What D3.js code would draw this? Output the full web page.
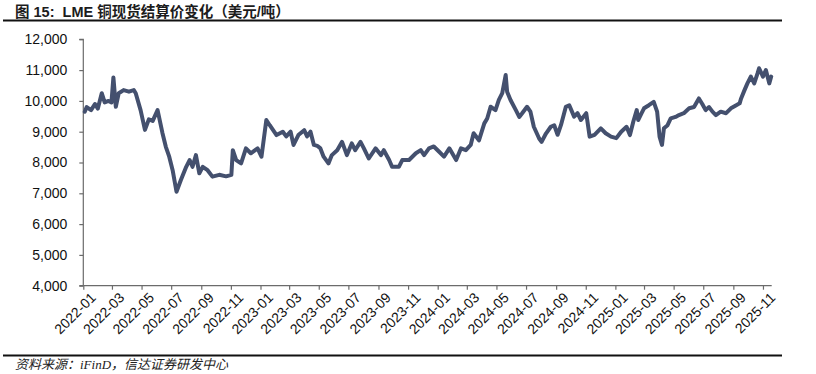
<!DOCTYPE html>
<html>
<head>
<meta charset="utf-8">
<script src="https://cdn.jsdelivr.net/npm/d3@7"></script>
<style>
  body { margin: 0; background: #fff; }
  svg { display: block; }
  .axis path, .axis line { stroke: #6b6b6b; stroke-width: 1.2; }
  .axis text { font-family: "Liberation Sans", Arial, sans-serif; font-size: 14px; fill: #111; }
  .title { font-family: "Liberation Sans", Arial, "Noto Sans CJK SC", sans-serif; font-size: 14.5px; font-weight: bold; fill: #1c1c1c; }
  .source { font-family: "Liberation Serif", "Noto Sans CJK SC", serif; font-size: 13px; font-style: italic; fill: #222; }
  .rule { stroke: #111; stroke-width: 2; }
  .price { fill: none; stroke: #44506e; stroke-width: 4; stroke-linejoin: round; stroke-linecap: round; }
</style>
</head>
<body>
<div id="chart"></div>
<script>
var title = "图 15:  LME 铜现货结算价变化（美元/吨）";
var source = "资料来源：iFinD，信达证券研发中心";

var yTicks = [4000, 5000, 6000, 7000, 8000, 9000, 10000, 11000, 12000];
var xDomain = ["2022-01-01", "2025-11-19"];

// LME copper cash settlement, USD/t
var dates = [
  "2022-01-04","2022-01-08","2022-01-17","2022-01-25","2022-01-31","2022-02-08","2022-02-14","2022-02-22",
  "2022-02-28","2022-03-04","2022-03-09","2022-03-15","2022-03-25","2022-04-05","2022-04-15","2022-04-19",
  "2022-04-29","2022-05-08","2022-05-16","2022-05-24","2022-06-03","2022-06-13","2022-06-20","2022-06-27",
  "2022-07-04","2022-07-12","2022-07-21","2022-08-01","2022-08-08","2022-08-14","2022-08-21","2022-08-28",
  "2022-09-04","2022-09-14","2022-09-24","2022-10-08","2022-10-22","2022-11-02","2022-11-05","2022-11-12",
  "2022-11-22","2022-12-02","2022-12-12","2022-12-26","2023-01-03","2023-01-13","2023-01-20","2023-02-03",
  "2023-02-16","2023-02-23","2023-03-04","2023-03-10","2023-03-20","2023-04-01","2023-04-07","2023-04-14",
  "2023-04-21","2023-04-28","2023-05-04","2023-05-11","2023-05-21","2023-05-28","2023-06-08","2023-06-18",
  "2023-06-28","2023-07-08","2023-07-15","2023-07-26","2023-08-02","2023-08-12","2023-08-26","2023-09-06",
  "2023-09-12","2023-09-23","2023-09-29","2023-10-13","2023-10-20","2023-11-03","2023-11-17","2023-11-27",
  "2023-12-04","2023-12-14","2023-12-24","2024-01-04","2024-01-14","2024-01-25","2024-02-08","2024-02-18",
  "2024-02-28","2024-03-09","2024-03-15","2024-03-26","2024-04-06","2024-04-12","2024-04-19","2024-04-29",
  "2024-05-06","2024-05-13","2024-05-20","2024-05-23","2024-05-30","2024-06-10","2024-06-17","2024-06-23",
  "2024-07-03","2024-07-10","2024-07-17","2024-07-28","2024-08-02","2024-08-11","2024-08-21","2024-08-28",
  "2024-09-04","2024-09-11","2024-09-21","2024-09-28","2024-10-08","2024-10-15","2024-10-22","2024-11-02",
  "2024-11-09","2024-11-19","2024-12-02","2024-12-12","2024-12-23","2025-01-03","2025-01-13","2025-01-24",
  "2025-01-31","2025-02-07","2025-02-14","2025-02-17","2025-02-24","2025-03-01","2025-03-11","2025-03-21",
  "2025-03-28","2025-04-02","2025-04-07","2025-04-11","2025-04-18","2025-04-25","2025-05-05","2025-05-12",
  "2025-05-22","2025-06-02","2025-06-12","2025-06-22","2025-06-29","2025-07-06","2025-07-13","2025-07-20",
  "2025-07-27","2025-08-06","2025-08-17","2025-08-27","2025-09-07","2025-09-14","2025-09-17","2025-09-24",
  "2025-09-30","2025-10-07","2025-10-14","2025-10-21","2025-10-24","2025-11-01","2025-11-07","2025-11-14",
  "2025-11-18"
];
var prices = [
  9650, 9800, 9700, 9900, 9750, 10250, 9950, 10000,
  9950, 10760, 9810, 10250, 10350, 10300, 10350, 10250,
  9700, 9060, 9400, 9350, 9700, 8960, 8510, 8190,
  7750, 7050, 7430, 7860, 8080, 7860, 8240, 7650,
  7860, 7750, 7540, 7600, 7550, 7600, 8400, 8080,
  7970, 8460, 8300, 8460, 8190, 9380, 9210, 8890,
  9000, 8850, 9000, 8570, 8890, 9050, 8850, 9000,
  8570, 8540, 8470, 8190, 7970, 8240, 8400, 8670,
  8240, 8620, 8400, 8670, 8460, 8130, 8460, 8240,
  8400, 8080, 7860, 7860, 8080, 8080, 8300, 8400,
  8240, 8460, 8520, 8350, 8190, 8460, 8080, 8460,
  8400, 8570, 8950, 8720, 9270, 9430, 9810, 9700,
  10030, 10250, 10840, 10300, 10030, 9700, 9480, 9600,
  9810, 9650, 9160, 8780, 8670, 8940, 9160, 9210,
  8900, 9220, 9810, 9860, 9490, 9600, 9380, 9600,
  8840, 8900, 9110, 8950, 8840, 8790, 9000, 9160,
  8890, 9330, 9700, 9380, 9600, 9760, 9860, 9970,
  9650, 8840, 8570, 9110, 9200, 9430, 9480, 9540,
  9600, 9760, 9800, 10080, 9900, 9700, 9800, 9650,
  9540, 9650, 9600, 9760, 9860, 9920, 10080, 10350,
  10570, 10790, 10570, 10900, 11060, 10790, 11000, 10570,
  10790
];

var W = 816, H = 374;
var plot = {left: 83.3, right: 771.7, top: 39.3, bottom: 285.7};

var svg = d3.select("#chart")
  .append("svg")
    .attr("width", W)
    .attr("height", H);

var parse = d3.timeParse("%Y-%m-%d");
var data = dates.map((d, i) => ({date: parse(d), value: prices[i]}));

var x = d3.scaleTime()
  .domain(xDomain.map(parse))
  .range([plot.left, plot.right]);

var y = d3.scaleLinear()
  .domain([yTicks[0], yTicks[yTicks.length - 1]])
  .range([plot.bottom, plot.top]);

// title and rules
svg.append("text")
  .attr("class", "title")
  .attr("x", 15)
  .attr("y", 17)
  .attr("xml:space", "preserve")
  .text(title);

svg.append("line").attr("class", "rule")
  .attr("x1", 3).attr("x2", 782).attr("y1", 20.5).attr("y2", 20.5);

svg.append("line").attr("class", "rule")
  .attr("x1", 3).attr("x2", 782).attr("y1", 355.5).attr("y2", 355.5);

svg.append("text")
  .attr("class", "source")
  .attr("x", 15)
  .attr("y", 369)
  .text(source);

// axes
var yAxis = d3.axisLeft(y)
  .tickValues(yTicks)
  .tickSize(4)
  .tickPadding(12)
  .tickFormat(d3.format(","));

svg.append("g")
  .attr("class", "axis")
  .attr("transform", `translate(${plot.left},0)`)
  .call(yAxis)
  .call(g => g.select(".domain").attr("d", `M-4,${plot.top}H0V${plot.bottom}H-4`));

var xAxis = d3.axisBottom(x)
  .ticks(d3.timeMonth.every(2))
  .tickSize(4)
  .tickFormat(d3.timeFormat("%Y-%m"));

svg.append("g")
  .attr("class", "axis")
  .attr("transform", `translate(0,${plot.bottom})`)
  .call(xAxis)
  .call(g => g.select(".domain").attr("d", `M${plot.left},0H${plot.right}`))
  .selectAll("text")
    .attr("text-anchor", "end")
    .attr("dx", "0.1em")
    .attr("dy", "0.5em")
    .attr("transform", "translate(2,4) rotate(-45)");

// price line
var line = d3.line()
  .x(d => x(d.date))
  .y(d => y(d.value));

svg.append("path")
  .datum(data)
  .attr("class", "price")
  .attr("d", line);
</script>
</body>
</html>
